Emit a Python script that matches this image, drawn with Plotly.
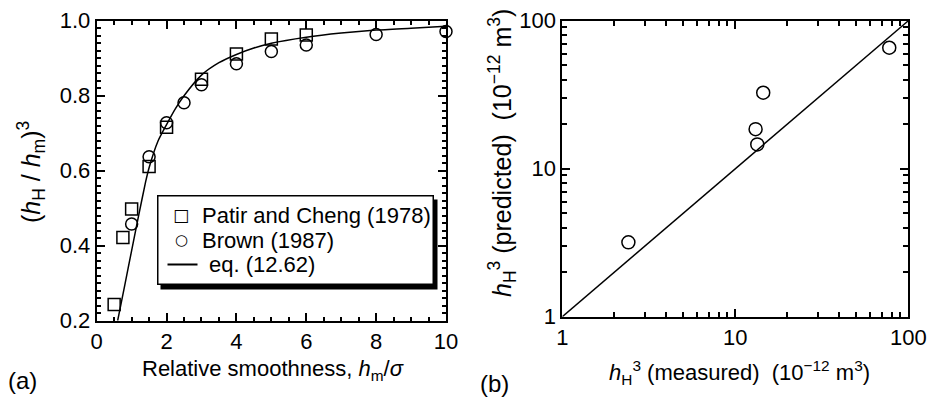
import plotly.graph_objects as go

W, H = 935, 397

# ---------- data panel (a) ----------
patir_x = [0.5, 0.75, 1.0, 1.5, 2.0, 3.0, 4.0, 5.0, 6.0]
patir_y = [0.243, 0.422, 0.498, 0.611, 0.716, 0.844, 0.911, 0.951, 0.962]
brown_x = [1.0, 1.5, 2.0, 2.5, 3.0, 4.0, 5.0, 6.0, 8.0, 10.0]
brown_y = [0.458, 0.637, 0.728, 0.781, 0.829, 0.885, 0.918, 0.935, 0.963, 0.971]
eq_x = [0.6, 0.8, 1.0, 1.2, 1.4, 1.5, 1.75, 2.0, 2.25, 2.5, 3.0, 3.5, 4.0, 4.5, 5.0, 6.0, 7.0, 8.0, 9.0, 10.0]
eq_y = [0.2, 0.293, 0.387, 0.48, 0.57, 0.608, 0.678, 0.723, 0.765, 0.80, 0.855, 0.888, 0.91, 0.927, 0.94, 0.956, 0.967, 0.975, 0.98, 0.985]
legend_names = ["Patir and Cheng (1978)", "Brown (1987)", "eq. (12.62)"]

# ---------- data panel (b) ----------
meas_x = [2.41, 13.1, 13.4, 14.5, 77.6]
pred_y = [3.18, 18.5, 14.6, 32.6, 65.7]
ref_line = [1, 100]

FONT = "Liberation Sans, Arial, Helvetica, sans-serif"
FS = 22

def px(x):
    return x / W

def py(y):
    return 1 - y / H

fig = go.Figure()

fig.add_trace(go.Scatter(x=patir_x, y=patir_y, mode="markers", name=legend_names[0],
                         marker=dict(symbol="square-open", size=12, color="black", line=dict(width=1.5)),
                         cliponaxis=False, xaxis="x", yaxis="y"))
fig.add_trace(go.Scatter(x=brown_x, y=brown_y, mode="markers", name=legend_names[1],
                         marker=dict(symbol="circle-open", size=12, color="black", line=dict(width=1.5)),
                         cliponaxis=False, xaxis="x", yaxis="y"))
fig.add_trace(go.Scatter(x=eq_x, y=eq_y, mode="lines", name=legend_names[2],
                         line=dict(color="black", width=1.5, shape="spline", smoothing=0.6),
                         xaxis="x", yaxis="y"))

fig.add_trace(go.Scatter(x=ref_line, y=ref_line, mode="lines",
                         line=dict(color="black", width=1.5), xaxis="x2", yaxis="y2"))
fig.add_trace(go.Scatter(x=meas_x, y=pred_y, mode="markers",
                         marker=dict(symbol="circle-open", size=13, color="black", line=dict(width=1.5)),
                         xaxis="x2", yaxis="y2"))

def axis(**kw):
    d = dict(showline=True, linecolor="black", linewidth=2, mirror="allticks",
             ticks="inside", tickcolor="black", tickwidth=1.5, ticklen=8,
             showgrid=False, zeroline=False,
             tickfont=dict(family=FONT, size=FS, color="black"))
    d.update(kw)
    return d

fig.update_layout(
    width=W, height=H,
    margin=dict(l=0, r=0, t=0, b=0, autoexpand=False),
    paper_bgcolor="white", plot_bgcolor="white",
    font=dict(family=FONT, size=FS, color="black"),
    showlegend=False,
    xaxis=axis(domain=[px(96.7), px(446)], range=[0, 10], anchor="y",
               tickmode="linear", tick0=0, dtick=2,
               minor=dict(dtick=0.5, ticks="inside", ticklen=4, tickcolor="black")),
    yaxis=axis(domain=[py(320.7), py(20.7)], range=[0.2, 1.0], anchor="x",
               tickmode="linear", tick0=0.2, dtick=0.2, tickformat=".1f",
               minor=dict(dtick=0.02, ticks="inside", ticklen=4, tickcolor="black")),
    xaxis2=axis(domain=[px(562.3), px(908.3)], type="log", range=[0, 2], anchor="y2",
                dtick=1,
                minor=dict(dtick="D1", ticks="inside", ticklen=5, tickcolor="black")),
    yaxis2=axis(domain=[py(316.7), py(20.7)], type="log", range=[0, 2], anchor="x2",
                dtick=1,
                minor=dict(dtick="D1", ticks="inside", ticklen=5, tickcolor="black")),
)

def note(text, x, y, xanchor="center", yanchor="middle", size=FS, **kw):
    fig.add_annotation(text=text, x=px(x), y=py(y), xref="paper", yref="paper",
                       xanchor=xanchor, yanchor=yanchor, showarrow=False,
                       font=dict(family=kw.pop("family", FONT), size=size, color="black"), **kw)

# ---- legend box (annotations: shadow, box, keys, labels) ----
LX0, LX1, LY0, LY1 = 156.7, 432.7, 195, 284
note(" ", LX0 + 3.5, LY0 + 3.5, xanchor="left", yanchor="top",
     width=LX1 - LX0, height=LY1 - LY0, borderpad=0, bgcolor="black")
note(" ", LX0, LY0, xanchor="left", yanchor="top",
     width=LX1 - LX0 - 2, height=LY1 - LY0 - 2, borderpad=0, bgcolor="white",
     bordercolor="black", borderwidth=1.5)
rows = [215, 240, 264]
note("□", 181, rows[0], size=17, family="DejaVu Sans")
note("○", 181.5, rows[1], size=15, family="DejaVu Sans")
note(" ", 182.5, rows[2], width=29, height=1, borderpad=0, bgcolor="black", size=1)
text_x = [199.5, 199.5, 206.5]
for name, ry, tx in zip(legend_names, rows, text_x):
    note(name, tx, ry, xanchor="left")

# ---- axis titles and panel labels ----
note("(<i>h</i><sub>H</sub> / <i>h</i><sub>m</sub>)<sup>3</sup>", 31, 172, textangle=-90, size=25)
note("Relative smoothness, <i>h</i><sub>m</sub>/<i>σ</i>", 273, 370)
note("(a)", 22, 380, size=24)
note("<i>h</i><sub>H</sub><sup>3</sup> (predicted)  (10<sup>−12</sup> m<sup>3</sup>)", 502, 153, textangle=-90, size=25)
note("<i>h</i><sub>H</sub><sup>3</sup> (measured)  (10<sup>−12</sup> m<sup>3</sup>)", 739, 372)
note("(b)", 494, 383, size=24)

fig.write_html("out.html", config={"displayModeBar": False},
               post_script="document.body.style.margin='0px';")
